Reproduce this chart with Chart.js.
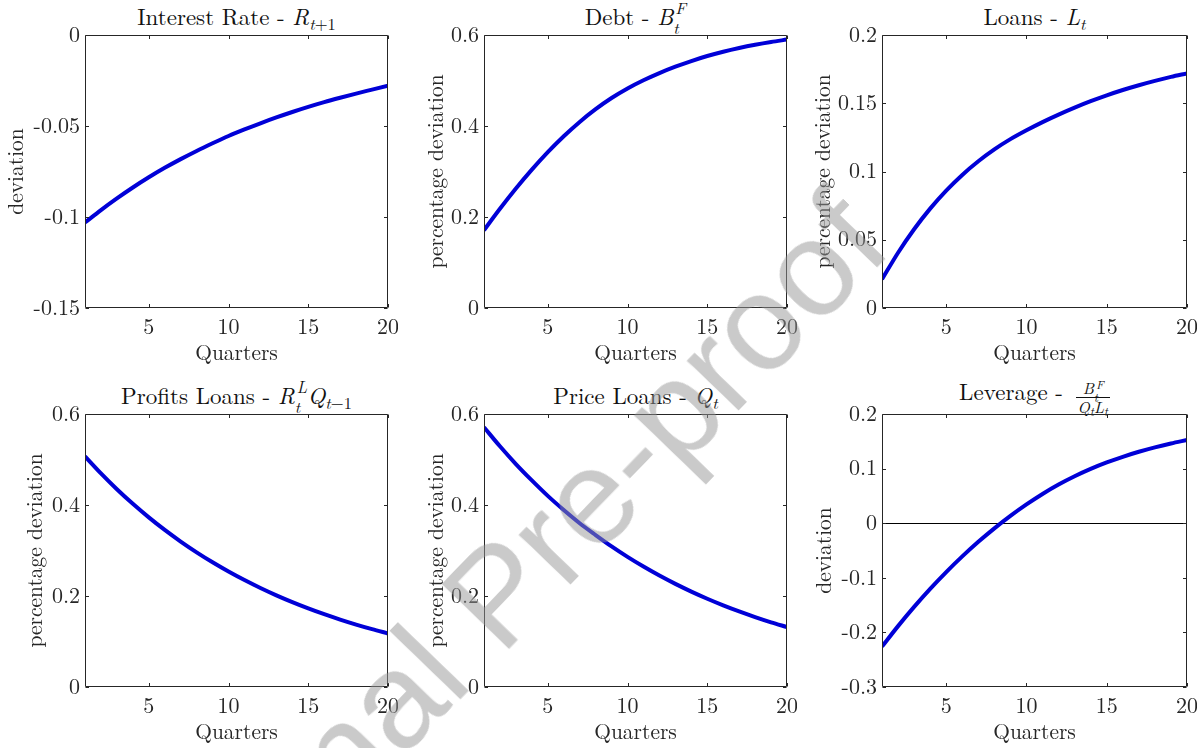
<!DOCTYPE html>
<html><head><meta charset="utf-8">
<script src="https://cdn.jsdelivr.net/npm/chart.js@4.4.1/dist/chart.umd.min.js"></script>
<style>
html,body{margin:0;padding:0;background:#fff;}
body{width:1203px;height:748px;position:relative;overflow:hidden;font-family:"Latin Modern Roman","Liberation Serif",serif;}
canvas{position:absolute;}
.ttl{position:absolute;text-align:center;font-size:23px;line-height:26px;height:26px;color:#111;white-space:nowrap;}
.ttl i{font-style:italic;}
.ttl sub{font-size:16.5px;vertical-align:-5px;line-height:0;}
.ss{display:inline-block;position:relative;width:13px;height:14px;vertical-align:baseline;}
.ss .a{position:absolute;left:2px;top:-12px;font-size:16.5px;font-style:italic;line-height:16px;}
.ss .b{position:absolute;left:0;top:8px;font-size:16.5px;font-style:italic;line-height:16px;}
.frac{display:inline-block;vertical-align:-13px;text-align:center;font-size:16px;line-height:18px;margin-left:5px;}
.frac .n{display:block;border-bottom:1px solid #111;padding:0 2px;}
.frac .d{display:block;padding:0 2px;}
.frac sub{font-size:12px;vertical-align:-3px;}
.frac .ss{width:9px;height:10px;}
.frac .ss .a{font-size:12px;top:-8px;}
.frac .ss .b{font-size:12px;top:5px;}
#wm{position:absolute;left:496px;top:594px;transform:translate(-50%,-50%) rotate(-46deg);font-family:"Liberation Sans",Arial,sans-serif;font-size:136px;line-height:1;color:rgba(150,150,150,0.5);white-space:nowrap;pointer-events:none;z-index:10;}
</style></head><body>
<div class="ttl" style="left:85px;width:303px;top:3px;">Interest Rate - <i>R</i><sub><i>t</i>+1</sub></div>
<div class="ttl" style="left:484px;width:303px;top:3px;">Debt - <i>B</i><span class="ss"><span class="a">F</span><span class="b">t</span></span></div>
<div class="ttl" style="left:882px;width:305px;top:3px;">Loans - <i>L</i><sub><i>t</i></sub></div>
<div class="ttl" style="left:85px;width:303px;top:382px;">Profits Loans - <i>R</i><span class="ss"><span class="a">L</span><span class="b">t</span></span><i>Q</i><sub><i>t</i>−1</sub></div>
<div class="ttl" style="left:484px;width:303px;top:382px;">Price Loans - <i>Q</i><sub><i>t</i></sub></div>
<div class="ttl" style="left:882px;width:305px;top:378px;">Leverage - <span class="frac"><span class="n"><i>B</i><span class="ss"><span class="a">F</span><span class="b">t</span></span></span><span class="d"><i>Q</i><sub><i>t</i></sub><i>L</i><sub><i>t</i></sub></span></span></div>
<div id="wm">Journal Pre-proof</div>
<script>
const quarters = [1,2,3,4,5,6,7,8,9,10,11,12,13,14,15,16,17,18,19,20];
const rateVals = [-0.103,-0.0962,-0.0898,-0.0838,-0.0782,-0.0730,-0.0682,-0.0637,-0.0595,-0.0555,-0.0519,-0.0485,-0.0453,-0.0423,-0.0395,-0.0369,-0.0345,-0.0322,-0.0300,-0.0278];
const debtVals = [0.171,0.218,0.2625,0.304,0.3425,0.3775,0.409,0.437,0.4615,0.4825,0.5005,0.5163,0.5303,0.5428,0.5538,0.5633,0.5715,0.5786,0.5847,0.5899];
const loansVals = [0.0210,0.0405,0.0577,0.0728,0.0860,0.0975,0.1075,0.1162,0.1237,0.1302,0.1362,0.1417,0.1468,0.1515,0.1558,0.1597,0.1632,0.1664,0.1693,0.1719];
const profitsVals = [0.507,0.4695,0.4347,0.4026,0.3728,0.3452,0.3197,0.2960,0.2741,0.2538,0.2350,0.2176,0.2015,0.1866,0.1728,0.1600,0.1482,0.1372,0.1271,0.1177];
const priceVals = [0.571,0.529,0.490,0.454,0.420,0.389,0.360,0.334,0.309,0.286,0.2647,0.2449,0.2266,0.2097,0.1940,0.1795,0.1661,0.1537,0.1422,0.1316];
const leverageVals = [-0.226,-0.1885,-0.1533,-0.1203,-0.0895,-0.0608,-0.0341,-0.0094,0.0134,0.0344,0.0536,0.0708,0.0860,0.0994,0.1112,0.1216,0.1308,0.1389,0.1461,0.1525];

const xTicks = [5,10,15,20];
const yTicksRate = [-0.15,-0.1,-0.05,0];
const yTicksDebt = [0,0.2,0.4,0.6];
const yTicksLoans = [0,0.05,0.1,0.15,0.2];
const yTicksProfits = [0,0.2,0.4,0.6];
const yTicksPrice = [0,0.2,0.4,0.6];
const yTicksLeverage = [-0.3,-0.2,-0.1,0,0.1,0.2];

const xLabel = 'Quarters';
const yLabels = ['deviation','percentage deviation','percentage deviation','percentage deviation','percentage deviation','deviation'];

const panels = [
  {vals:rateVals, yt:yTicksRate, yl:yLabels[0], L:85, R:388, T:35, B:308, tc:16, zero:false},
  {vals:debtVals, yt:yTicksDebt, yl:yLabels[1], L:484, R:787, T:35, B:308, tc:37, zero:false},
  {vals:loansVals, yt:yTicksLoans, yl:yLabels[2], L:882, R:1187, T:35, B:308, tc:26.5, zero:false},
  {vals:profitsVals, yt:yTicksProfits, yl:yLabels[3], L:85, R:388, T:414, B:687, tc:35, zero:false},
  {vals:priceVals, yt:yTicksPrice, yl:yLabels[4], L:484, R:787, T:414, B:687, tc:37, zero:false},
  {vals:leverageVals, yt:yTicksLeverage, yl:yLabels[5], L:882, R:1187, T:414, B:687, tc:27, zero:true}
];

const FAM = '"Latin Modern Roman", "Liberation Serif", serif';
const AX = '#262626';
const YW = 85, XH = 61, PT = 10, PR = 10;
const TICK = 22, LAB = 21.5;

const frame = {
  id:'frame',
  afterDraw(chart){
    const {ctx, chartArea:a, scales} = chart;
    const l = Math.round(a.left)+0.5, r = Math.round(a.right)-0.5, t = Math.round(a.top)+0.5, b = Math.round(a.bottom)-0.5;
    ctx.save();
    ctx.strokeStyle = AX; ctx.lineWidth = 1;
    ctx.beginPath();
    ctx.rect(l, t, r-l, b-t);
    const tl = 3.5;
    scales.x.ticks.forEach(tk => {
      const px = Math.round(scales.x.getPixelForValue(tk.value))+0.5;
      ctx.moveTo(px, b); ctx.lineTo(px, b-tl);
      ctx.moveTo(px, t); ctx.lineTo(px, t+tl);
    });
    scales.y.ticks.forEach(tk => {
      const py = Math.round(scales.y.getPixelForValue(tk.value))+0.5;
      ctx.moveTo(l, py); ctx.lineTo(l+tl, py);
      ctx.moveTo(r, py); ctx.lineTo(r-tl, py);
    });
    ctx.stroke();
    ctx.restore();
  }
};

function draw(){
  panels.forEach(p => {
    const c = document.createElement('canvas');
    const w = (p.R-p.L) + YW + PR, h = (p.B-p.T) + PT + XH;
    c.width = w; c.height = h;
    c.style.left = (p.L-YW)+'px'; c.style.top = (p.T-PT)+'px';
    c.style.width = w+'px'; c.style.height = h+'px';
    document.body.appendChild(c);
    const lh = LAB*1.2;
    new Chart(c, {
      type:'line',
      data:{datasets:[{data:quarters.map((q,i)=>({x:q,y:p.vals[i]})), borderColor:'rgb(0,0,215)', borderWidth:4, pointRadius:0, fill:false, cubicInterpolationMode:'monotone', borderCapStyle:'butt'}]},
      options:{
        responsive:false, animation:false, devicePixelRatio:1, events:[],
        layout:{padding:{left:0, top:PT, right:PR, bottom:0}},
        plugins:{legend:{display:false}, tooltip:{enabled:false}, title:{display:false}},
        scales:{
          x:{type:'linear', min:1, max:20,
            afterBuildTicks: s => { s.ticks = xTicks.map(v=>({value:v})); },
            afterFit: s => { s.height = XH; s.paddingLeft = 0; s.paddingRight = 0; },
            grid:{display:false, drawTicks:false}, border:{display:false},
            ticks:{padding:6, color:AX, font:{family:FAM, size:TICK}, maxRotation:0, callback:v=>String(v)},
            title:{display:true, text:xLabel, color:AX, font:{family:FAM, size:LAB}, padding:{top:0, bottom:16-lh/2}}
          },
          y:{type:'linear', min:p.yt[0], max:p.yt[p.yt.length-1],
            afterBuildTicks: s => { s.ticks = p.yt.map(v=>({value:v})); },
            afterFit: s => { s.width = YW; s.paddingTop = 0; s.paddingBottom = 0; },
            grid:{display:p.zero, drawTicks:false, drawOnChartArea:true, lineWidth:1, color: ctx => (ctx.tick && ctx.tick.value===0) ? '#000' : 'rgba(0,0,0,0)'},
            border:{display:false},
            ticks:{padding:5, color:AX, font:{family:FAM, size:TICK}, callback:v=>String(v)},
            title:{display:true, text:p.yl, color:AX, font:{family:FAM, size:LAB}, padding:{top:p.tc-lh/2, bottom:0}}
          }
        }
      },
      plugins:[frame]
    });
  });
}
const loads = [document.fonts.load('21px "Latin Modern Roman"'), document.fonts.load('italic 22px "Latin Modern Roman"'), document.fonts.load('136px "Liberation Sans"')];
Promise.all(loads).then(draw, draw);
</script>
</body></html>
